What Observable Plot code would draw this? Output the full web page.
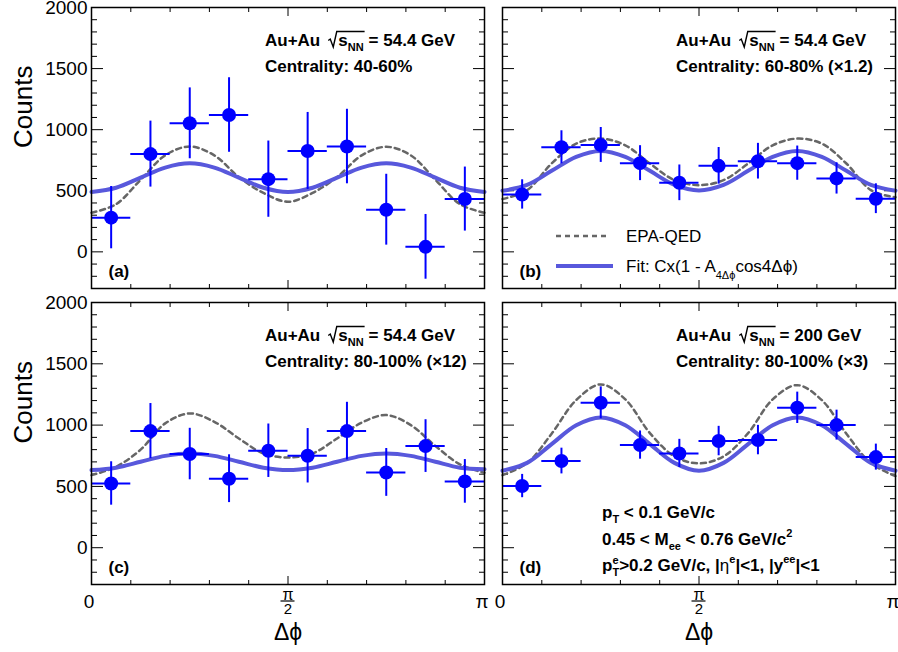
<!DOCTYPE html>
<html><head><meta charset="utf-8">
<script src="https://cdn.jsdelivr.net/npm/d3@7"></script>
<script src="https://cdn.jsdelivr.net/npm/@observablehq/plot@0.6"></script>
<style>
body{margin:0;background:#fff;}
#wrap{position:relative;width:898px;height:652px;font-family:"Liberation Sans",Arial,Helvetica,sans-serif;}
</style></head><body><div id="wrap"></div>
<script>
const PI = Math.PI;
// Δφ bin edges, in units of π (10 bins)
const binEdgesFrac = [0, 0.1, 0.2, 0.3, 0.4, 0.5, 0.6, 0.7, 0.8, 0.9, 1.0];
const curvePhiFrac = [0, 1/16, 2/16, 3/16, 4/16, 5/16, 6/16, 7/16, 8/16, 9/16, 10/16, 11/16, 12/16, 13/16, 14/16, 15/16, 1];

// (a) 54.4 GeV, 40-60%
const countsA = [280, 800, 1052, 1120, 595, 826, 862, 345, 41, 432];
const errA    = [255, 270, 290, 305, 312, 315, 305, 290, 265, 262];
const fitA = [490, 525, 607, 690, 725, 690, 607, 525, 490, 525, 607, 690, 725, 690, 607, 525, 490];
const epaA = [320, 390, 590, 790, 862, 790, 612, 482, 410, 482, 612, 790, 860, 790, 590, 390, 320];
// (b) 54.4 GeV, 60-80% (x1.2)
const countsB = [470, 856, 875, 726, 565, 704, 742, 726, 601, 435];
const errB    = [120, 135, 143, 143, 146, 150, 146, 140, 128, 122];
const fitB = [500, 548, 663, 778, 826, 778, 663, 548, 503, 548, 663, 778, 826, 778, 663, 548, 500];
const epaB = [432, 505, 723, 886, 927, 872, 723, 587, 546, 587, 723, 872, 927, 886, 723, 505, 446];
// (c) 54.4 GeV, 80-100% (x12)
const countsC = [524, 951, 764, 563, 791, 750, 951, 614, 829, 541];
const errC    = [177, 225, 210, 195, 218, 222, 235, 195, 215, 178];
const fitC = [633, 653, 701, 749, 769, 749, 701, 653, 633, 653, 701, 749, 769, 749, 701, 653, 640];
const epaC = [592, 660, 800, 1014, 1095, 1027, 891, 769, 736, 769, 891, 1020, 1082, 1000, 830, 680, 611];
// (d) 200 GeV, 80-100% (x3)
const countsD = [503, 707, 1182, 837, 769, 870, 878, 1141, 1000, 739];
const errD    = [95, 105, 130, 115, 115, 120, 120, 128, 122, 106];
const fitD = [628, 692, 845, 999, 1063, 999, 845, 692, 628, 692, 845, 999, 1063, 999, 845, 692, 628];
const epaD = [592, 690, 930, 1204, 1332, 1210, 935, 745, 688, 745, 935, 1210, 1326, 1204, 930, 690, 584];

const yMajor = [0, 500, 1000, 1500, 2000];
const yMinor = [-300,-200,-100,100,200,300,400,600,700,800,900,1100,1200,1300,1400,1600,1700,1800,1900];
const yTickLabels = ["0", "500", "1000", "1500", "2000"];
const xMinorFrac = [0.1, 0.2, 0.3, 0.4, 0.6, 0.7, 0.8, 0.9];
const xMajorFrac = [0.5];
const xEdgeLabels = ["0", "π"];

const energies = ["54.4", "54.4", "54.4", "200"];
const centralities = ["Centrality: 40-60%", "Centrality: 60-80% (×1.2)", "Centrality: 80-100% (×12)", "Centrality: 80-100% (×3)"];
const tags = ["(a)", "(b)", "(c)", "(d)"];
const legendLabels = ["EPA-QED", "Fit: Cx(1 - A"];
const PHI = "ϕ";

const FIT_COLOR = "#5858dc";
const EPA_COLOR = "#666666";
const PT_COLOR = "#0000ff";
const FONT = "Liberation Sans, Arial, Helvetica, sans-serif";

const panels = [
  {left:0,   top:0,   w:490, h:295, mL:91, mR:6, mT:7, mB:7,  counts:countsA, errs:errA, fit:fitA, epa:epaA, yLab:true,  xLab:false},
  {left:490, top:0,   w:408, h:295, mL:12, mR:3, mT:7, mB:7,  counts:countsB, errs:errB, fit:fitB, epa:epaB, yLab:false, xLab:false},
  {left:0,   top:295, w:490, h:357, mL:91, mR:6, mT:7, mB:68, counts:countsC, errs:errC, fit:fitC, epa:epaC, yLab:true,  xLab:true},
  {left:490, top:295, w:408, h:357, mL:12, mR:3, mT:7, mB:68, counts:countsD, errs:errD, fit:fitD, epa:epaD, yLab:false, xLab:true},
];

function rich(g, x, y, pieces) {
  let cx = x, radStart = null;
  for (const p of pieces) {
    if (p.gap) { cx += p.gap; continue; }
    if (p.rad) { radStart = cx; cx += 10; continue; }
    if (p.radEnd) {
      const s = radStart;
      g.append("path")
        .attr("d", `M${s},${y-5} L${s+2},${y-6.5} L${s+5},${y+1.5} L${s+8.5},${y-14} L${cx+1},${y-14}`)
        .attr("fill", "none").attr("stroke", "#000").attr("stroke-width", 1.4);
      continue;
    }
    const t = g.append("text").attr("x", cx).attr("y", y + (p.dy || 0))
      .attr("text-anchor", "start")
      .attr("font-size", p.size || 17).attr("font-weight", p.weight || "bold")
      .attr("font-family", FONT).attr("fill", "#000").text(p.t);
    const w = t.node().getComputedTextLength();
    if (!p.stack) cx += w;
  }
}

const wrap = document.getElementById("wrap");
panels.forEach((P, pi) => {
  const rows = curvePhiFrac.map((f, i) => ({phi: f * PI, fit: P.fit[i], epa: P.epa[i]}));
  const pts = P.counts.map((c, i) => ({
    x0: binEdgesFrac[i] * PI, x1: binEdgesFrac[i + 1] * PI,
    xc: (binEdgesFrac[i] + binEdgesFrac[i + 1]) / 2 * PI, y: c, e: P.errs[i]
  }));
  const marks = [
    Plot.axisY({anchor: "left", ticks: yMajor, tickSize: 12, dx: 12, fill: "none", label: null}),
    Plot.axisY({anchor: "left", ticks: yMinor, tickSize: 6, dx: 6, fill: "none", label: null}),
    Plot.axisY({anchor: "right", ticks: yMajor, tickSize: 12, dx: -12, fill: "none", label: null}),
    Plot.axisY({anchor: "right", ticks: yMinor, tickSize: 6, dx: -6, fill: "none", label: null}),
    Plot.axisX({anchor: "bottom", ticks: xMinorFrac.map(f => f * PI), tickSize: 4, dy: -4, fill: "none", label: null}),
    Plot.axisX({anchor: "bottom", ticks: xMajorFrac.map(f => f * PI), tickSize: 8, dy: -8, fill: "none", label: null}),
    Plot.axisX({anchor: "top", ticks: xMinorFrac.map(f => f * PI), tickSize: 4, dy: 4, fill: "none", label: null}),
    Plot.axisX({anchor: "top", ticks: xMajorFrac.map(f => f * PI), tickSize: 8, dy: 8, fill: "none", label: null}),
    Plot.line(rows, {x: "phi", y: "epa", curve: "catmull-rom", stroke: EPA_COLOR, strokeWidth: 2.5, strokeDasharray: "5,4"}),
    Plot.line(rows, {x: "phi", y: "fit", curve: "catmull-rom", stroke: FIT_COLOR, strokeWidth: 4}),
    Plot.ruleY(pts, {y: "y", x1: "x0", x2: "x1", stroke: PT_COLOR, strokeWidth: 2}),
    Plot.ruleX(pts, {x: "xc", y1: d => d.y - d.e, y2: d => d.y + d.e, stroke: PT_COLOR, strokeWidth: 2}),
    Plot.dot(pts, {x: "xc", y: "y", r: 7, fill: PT_COLOR, stroke: "none"}),
    Plot.frame({stroke: "#000", strokeWidth: 1.5}),
  ];
  if (P.yLab) {
    marks.push(Plot.axisY({anchor: "left", ticks: yMajor, tickSize: 0, tickPadding: 4, tickFormat: (d) => yTickLabels[yMajor.indexOf(d)], label: null, fontSize: 19}));
    marks.push(Plot.text(["Counts"], {frameAnchor: "left", dx: -68, rotate: -90, fontSize: 26, text: d => d}));
  } else {
    marks.push(Plot.axisY({anchor: "left", ticks: yMajor, tickSize: 0, fill: "none", label: null}));
  }
  if (P.xLab) {
    marks.push(Plot.text([0, PI], {x: d => d, frameAnchor: "bottom", dy: 17.5, dx: -2.5, lineAnchor: "middle", fontSize: 19, text: (d, i) => xEdgeLabels[i]}));
    marks.push(Plot.text([PI / 2], {x: d => d, frameAnchor: "bottom", dy: 10, lineAnchor: "middle", fontSize: 16, text: () => "π"}));
    marks.push(Plot.text([PI / 2], {x: d => d, frameAnchor: "bottom", dy: 25, lineAnchor: "middle", fontSize: 15, text: () => "2"}));
    marks.push(Plot.text([PI / 2], {x: d => d, frameAnchor: "bottom", dy: 48, lineAnchor: "middle", fontSize: 23, text: () => "Δ" + PHI}));
  }
  marks.push(Plot.axisX({anchor: "bottom", ticks: [], tickSize: 0, fill: "none", label: null}));

  const svg = Plot.plot({
    width: P.w, height: P.h,
    marginLeft: P.mL, marginRight: P.mR, marginTop: P.mT, marginBottom: P.mB,
    x: {domain: [0, PI]},
    y: {domain: [-300, 2000]},
    style: {fontFamily: FONT, fontSize: "19px", color: "#000", background: "transparent", overflow: "visible", position: "absolute", left: P.left + "px", top: P.top + "px"},
    marks
  });
  wrap.appendChild(svg);

  const fx0 = P.mL, fy0 = P.mT, fy1 = P.h - P.mB;
  const g = d3.select(svg).append("g");
  rich(g, fx0 + 174, fy0 + 38.5, [
    {t: "Au+Au"}, {gap: 8}, {rad: true}, {t: "s"}, {t: "NN", size: 11, dy: 5}, {radEnd: true}, {gap: 5},
    {t: "= " + energies[pi] + " GeV"}
  ]);
  rich(g, fx0 + 174, fy0 + 65, [{t: centralities[pi]}]);
  rich(g, fx0 + 17.5, fy1 - 11, [{t: tags[pi]}]);

  if (pi === 1) {
    g.append("line").attr("x1", fx0 + 54).attr("x2", fx0 + 108).attr("y1", fy0 + 229).attr("y2", fy0 + 229)
      .attr("stroke", EPA_COLOR).attr("stroke-width", 2.5).attr("stroke-dasharray", "5,4");
    g.append("line").attr("x1", fx0 + 54).attr("x2", fx0 + 111).attr("y1", fy0 + 259).attr("y2", fy0 + 259)
      .attr("stroke", FIT_COLOR).attr("stroke-width", 4);
    rich(g, fx0 + 124, fy0 + 235, [{t: legendLabels[0], weight: "normal"}]);
    rich(g, fx0 + 124, fy0 + 265, [{t: legendLabels[1], weight: "normal"}, {t: "4Δ" + PHI, size: 11, dy: 7, weight: "normal"}, {t: "cos4Δ" + PHI + ")", weight: "normal"}]);
  }
  if (pi === 3) {
    rich(g, fx0 + 100, fy0 + 216, [{t: "p"}, {t: "T", size: 11, dy: 5}, {t: " < 0.1 GeV/c"}]);
    rich(g, fx0 + 100, fy0 + 243, [{t: "0.45 < M"}, {t: "ee", size: 11, dy: 5}, {t: " < 0.76 GeV/c"}, {t: "2", size: 11, dy: -8}]);
    rich(g, fx0 + 100, fy0 + 269, [{t: "p"}, {t: "e", size: 11, dy: -7, stack: true}, {t: "T", size: 11, dy: 5},
      {t: ">0.2 GeV/c, |"}, {t: "η", weight: "normal"}, {t: "e", size: 11, dy: -8}, {t: "|<1, |y"}, {t: "ee", size: 11, dy: -8}, {t: "|<1"}]);
  }
  if (P.xLab) {
    const cx = svg.scale("x").apply(PI / 2);
    g.append("line").attr("x1", cx - 7).attr("x2", cx + 7).attr("y1", fy1 + 17).attr("y2", fy1 + 17)
      .attr("stroke", "#000").attr("stroke-width", 1.2);
  }
});
</script></body></html>
